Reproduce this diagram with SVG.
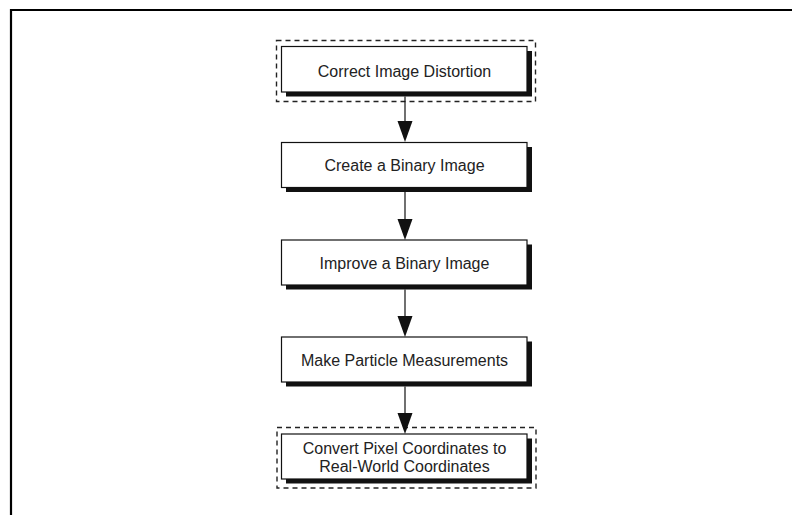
<svg xmlns="http://www.w3.org/2000/svg" width="792" height="515" viewBox="0 0 792 515">
<defs>
<style>
.shadow{fill:#111}
.box{fill:#fff;stroke:#111;stroke-width:1.2}
.dash{fill:none;stroke:#222;stroke-width:1.4;stroke-dasharray:5 4}
.lbl{font-family:"Liberation Sans",Arial,sans-serif;font-size:16px;fill:#222;text-anchor:middle}
.conn{stroke:#111;stroke-width:1.2;fill:none}
.head{fill:#111}
</style>
</defs>
<rect width="792" height="515" fill="#fff"/>
<g id="frame">
<path d="M11,515 V10 H792" fill="none" stroke="#000" stroke-width="2.2"/>
</g>
<g id="n1">
<rect class="dash" x="276.5" y="40.5" width="259" height="61"/>
<rect class="shadow" x="286" y="51" width="246" height="45.5"/>
<rect class="box" x="281.5" y="46.5" width="245.5" height="45.5"/>
<text class="lbl" x="404.5" y="76.5">Correct Image Distortion</text>
</g>
<g id="n2">
<rect class="shadow" x="286" y="147" width="246" height="45"/>
<rect class="box" x="281.5" y="142.5" width="245.5" height="45"/>
<text class="lbl" x="404.5" y="171">Create a Binary Image</text>
</g>
<g id="n3">
<rect class="shadow" x="286" y="244.5" width="246" height="45"/>
<rect class="box" x="281.5" y="240" width="245.5" height="45"/>
<text class="lbl" x="404.5" y="268.5">Improve a Binary Image</text>
</g>
<g id="n4">
<rect class="shadow" x="286" y="341.5" width="246" height="45"/>
<rect class="box" x="281.5" y="337" width="245.5" height="45"/>
<text class="lbl" x="404.5" y="365.5">Make Particle Measurements</text>
</g>
<g id="n5">
<rect class="dash" x="277" y="427.5" width="259" height="60.5"/>
<rect class="shadow" x="286" y="438.5" width="246" height="45"/>
<rect class="box" x="281.5" y="434" width="245.5" height="45"/>
<text class="lbl" x="404.5" y="453.5">Convert Pixel Coordinates to</text>
<text class="lbl" x="404.5" y="471.5">Real-World Coordinates</text>
</g>
<g id="connectors">
<line class="conn" x1="405" y1="96.5" x2="405" y2="121"/>
<path class="head" d="M397.5,121 L412.5,121 L405,142 Z"/>
<line class="conn" x1="405" y1="192" x2="405" y2="219"/>
<path class="head" d="M397.5,219 L412.5,219 L405,240 Z"/>
<line class="conn" x1="405" y1="289.5" x2="405" y2="316"/>
<path class="head" d="M397.5,316 L412.5,316 L405,337 Z"/>
<line class="conn" x1="405" y1="386.5" x2="405" y2="413"/>
<path class="head" d="M397.5,413 L412.5,413 L405,434 Z"/>
</g>
</svg>
